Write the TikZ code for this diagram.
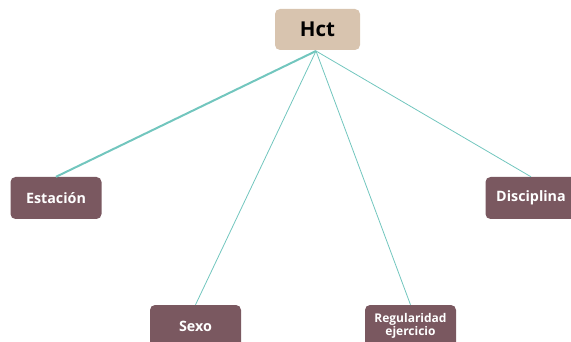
\documentclass[tikz,border=0pt]{standalone}
\usepackage{fontspec}
\setmainfont{Open Sans}
\definecolor{topfill}{HTML}{D8C4AF}
\definecolor{leaffill}{HTML}{7A5860}
\definecolor{linkcol}{HTML}{72C6BE}
\begin{document}
\begin{tikzpicture}[x=1pt,y=1pt,
  topbox/.style={fill=topfill,rounded corners=5pt,minimum width=85pt,minimum height=41pt,inner sep=0pt,font=\bfseries\fontsize{20.5}{22}\selectfont,text=black},
  leafbox/.style={fill=leaffill,rounded corners=5pt,minimum width=91pt,minimum height=42pt,inner sep=0pt,font=\bfseries\fontsize{14.3}{16}\selectfont,text=white,align=center},
  link/.style={draw=linkcol,line width=0.8pt},
  thicklink/.style={draw=linkcol,line width=2pt}]
\useasboundingbox (0,0) rectangle (571,-342);
\clip (0,0) rectangle (571,-342);
\node[topbox] (hct) at (317.5,-29.5) {Hct};
\coordinate (hub) at (316,-51);
\node[leafbox] (est) at (56,-198) {Estación};
\node[leafbox] (dis) at (531,-198) {Disciplina};
\node[leafbox] (sex) at (195.5,-326) {Sexo};
\node[leafbox,font=\bfseries\fontsize{12}{12.5}\selectfont] (reg) at (410.5,-326) {Regularidad\\ejercicio};
\draw[thicklink] (hub) -- (est.north);
\draw[link] (hub) -- (sex.north);
\draw[link] (hub) -- (reg.north);
\draw[link] (hub) -- (dis.north);
\end{tikzpicture}
\end{document}
